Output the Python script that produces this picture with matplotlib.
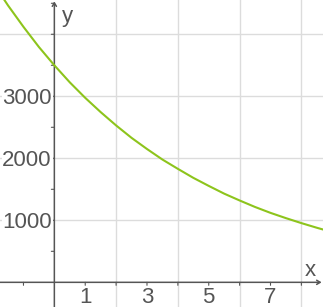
import matplotlib
matplotlib.use('Agg')
import matplotlib.pyplot as plt

# curve values
x_vals = [-2, -1.5, -1, -0.5, 0, 0.5, 1, 1.5, 2, 2.5, 3, 3.5, 4, 4.5,
          5, 5.5, 6, 6.5, 7, 7.5, 8, 8.5, 9]
y_vals = [4840, 4465, 4120, 3795, 3500, 3225, 2975, 2745, 2530, 2330,
          2150, 1980, 1830, 1685, 1555, 1430, 1320, 1215, 1120, 1035,
          955, 880, 810]

x_grid = [2, 4, 6, 8]
y_grid = [1000, 2000, 3000, 4000]
x_ticks = [-1, 1, 2, 3, 4, 5, 6, 7, 8]
y_ticks = [500, 1000, 1500, 2000, 2500, 3000, 3500, 4000, 4500]
x_labels = [1, 3, 5, 7]
y_labels = [1000, 2000, 3000]

plt.rcParams['font.family'] = ['Liberation Sans', 'DejaVu Sans']

axis_col = '#555555'
grid_col = '#dcdcdc'
text_col = '#555555'
curve_col = '#8dc41c'

fig = plt.figure(figsize=(3.23, 3.07), dpi=100)
ax = fig.add_axes([0, 0, 1, 1])
ax.set_xlim(-1.76, 8.70)
ax.set_ylim(-398, 4553)
ax.axis('off')

for gx in x_grid:
    ax.axvline(gx, color=grid_col, lw=1.0, zorder=1)
for gy in y_grid:
    ax.axhline(gy, color=grid_col, lw=1.0, zorder=1)

# axes with open arrow heads
ax.annotate('', xy=(1, 0), xytext=(0, 0),
            xycoords=('axes fraction', 'data'), textcoords=('axes fraction', 'data'),
            arrowprops=dict(arrowstyle='->,head_length=0.25,head_width=0.15',
                            color=axis_col, lw=1.1, shrinkA=0, shrinkB=1),
            zorder=3)
ax.annotate('', xy=(0, 1), xytext=(0, 0),
            xycoords=('data', 'axes fraction'), textcoords=('data', 'axes fraction'),
            arrowprops=dict(arrowstyle='->,head_length=0.25,head_width=0.15',
                            color=axis_col, lw=1.1, shrinkA=0, shrinkB=1),
            zorder=3)

# tick marks
for t in x_ticks:
    ax.annotate('', xy=(t, 0), xytext=(0, -3), textcoords='offset pixels',
                arrowprops=dict(arrowstyle='-', color=axis_col, lw=0.8,
                                shrinkA=0, shrinkB=0), zorder=3)
for t in y_ticks:
    ax.annotate('', xy=(0, t), xytext=(-3, 0), textcoords='offset pixels',
                arrowprops=dict(arrowstyle='-', color=axis_col, lw=0.8,
                                shrinkA=0, shrinkB=0), zorder=3)

ax.plot(x_vals, y_vals, color=curve_col, lw=1.5, zorder=4)

for v in x_labels:
    ax.annotate(str(v), xy=(v, 0), xytext=(0, -21), textcoords='offset pixels',
                ha='center', va='baseline', fontsize=16, color=text_col, zorder=5)
for v in y_labels:
    ax.annotate(str(v), xy=(0, v), xytext=(-2.5, -8), textcoords='offset pixels',
                ha='right', va='baseline', fontsize=16, color=text_col, zorder=5,
                bbox=dict(fc='white', ec='none', pad=0.5))

ax.annotate('y', xy=(0, 1), xycoords=('data', 'axes fraction'),
            xytext=(8, -22), textcoords='offset pixels',
            ha='left', va='baseline', fontsize=16, color=text_col)
ax.annotate('x', xy=(1, 0), xycoords=('axes fraction', 'data'),
            xytext=(-18, 6), textcoords='offset pixels',
            ha='left', va='baseline', fontsize=16, color=text_col)

fig.savefig('out.png', dpi=100)
